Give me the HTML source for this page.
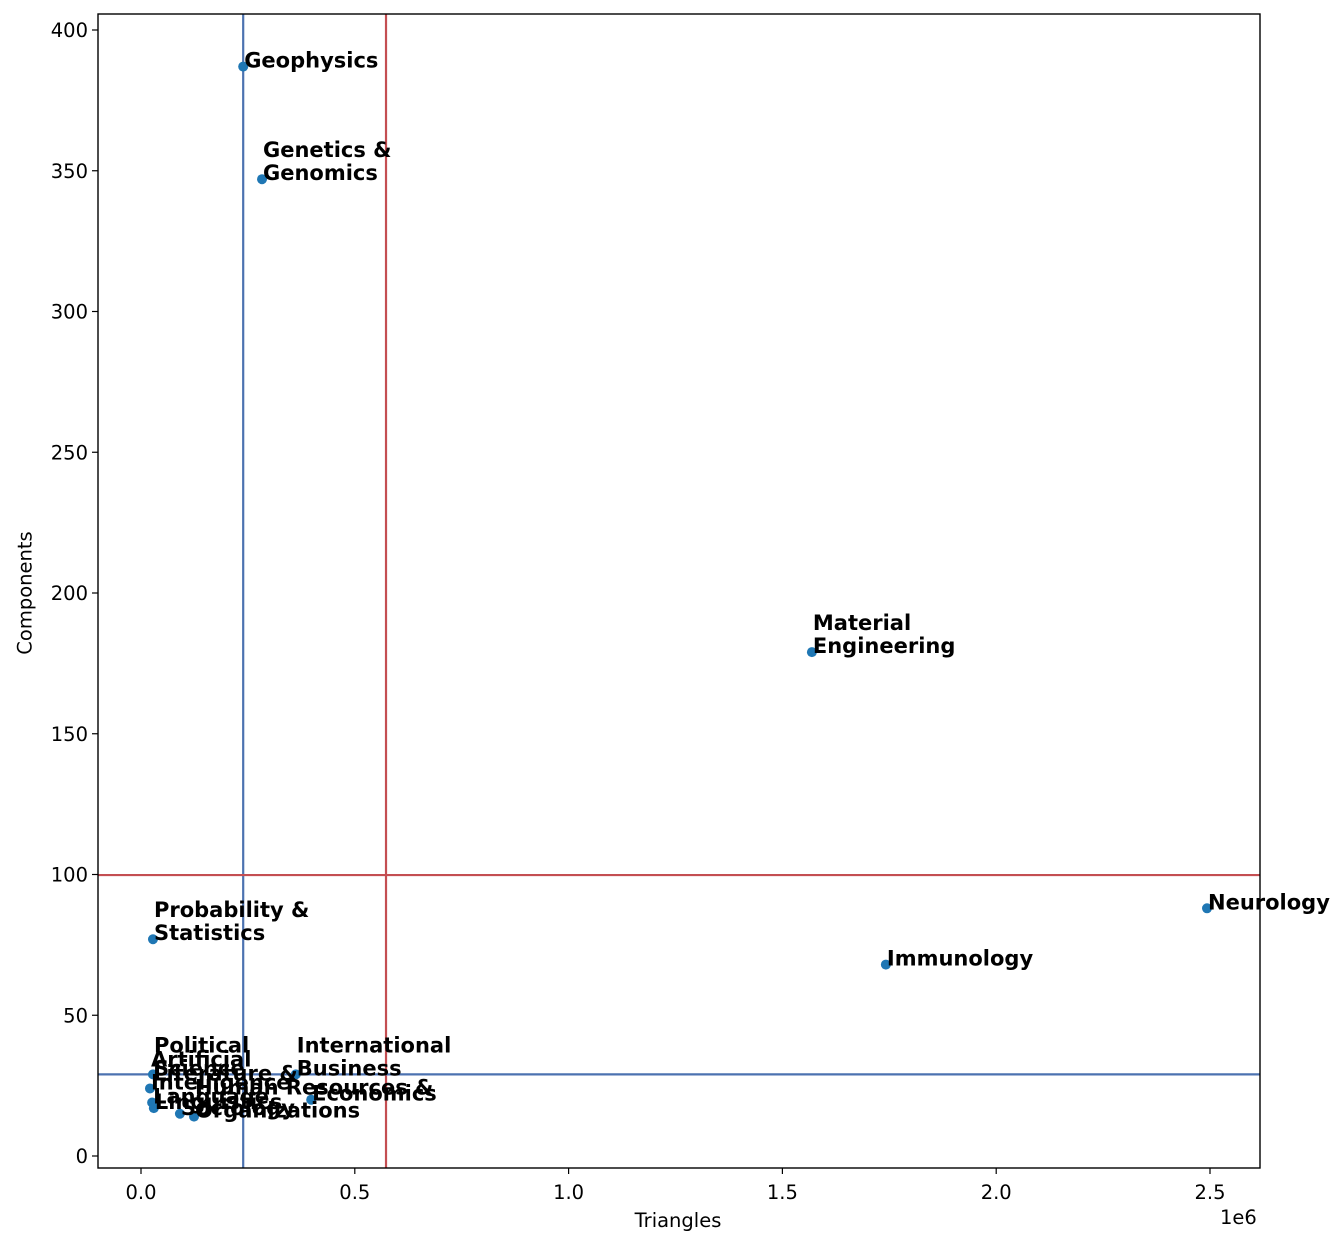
<!DOCTYPE html>
<html><head><meta charset="utf-8"><style>
body{margin:0;background:#fff}
svg{display:block;font-family:"DejaVu Sans","Liberation Sans",sans-serif}
</style></head><body>
<svg id="chart" width="1343" height="1247" viewBox="0 0 1343 1247" xmlns="http://www.w3.org/2000/svg"></svg>
<script>
const names = [["Geophysics"],["Genetics &","Genomics"],["Material","Engineering"],["Neurology"],["Immunology"],["Probability &","Statistics"],["Political","Science"],["Artificial","Intelligence"],["Literature &","Language"],["Linguistics"],["Sociology"],["Human Resources &","Organizations"],["International","Business"],["Economics"]];
const triangles = [0.239e6,0.283e6,1.569e6,2.493e6,1.742e6,0.028e6,0.028e6,0.021e6,0.026e6,0.030e6,0.091e6,0.124e6,0.362e6,0.398e6];
const components = [387,347,179,88,68,77,29,24,19,17,15,14,29,20];
const xTicks = [0,0.5e6,1e6,1.5e6,2e6,2.5e6];
const xTickLabels = ["0.0","0.5","1.0","1.5","2.0","2.5"];
const yTicks = [0,50,100,150,200,250,300,350,400];
const refX = [0.239e6,0.573e6];
const refY = [29,99.8];
const refColors = ["#4c72b0","#c44e52"];

const L=98,R=1260,T=14,B=1168;
const xs=v=>141+v*427.6/1e6;
const ys=v=>1156-v*2.815;
const svg=document.getElementById('chart');
const NS="http://www.w3.org/2000/svg";
function mk(tag,attrs,parent){const e=document.createElementNS(NS,tag);for(const k in attrs)e.setAttribute(k,attrs[k]);(parent||svg).appendChild(e);return e;}

yTicks.forEach(v=>{
  const t=mk('line',{x1:L-6,x2:L,y1:ys(v),y2:ys(v),stroke:'#000','stroke-width':1.2});
  
  
  const l=mk('text',{x:L-10,y:ys(v)+7,'text-anchor':'end','font-size':19.5});
  l.textContent=v;
  
  
});
xTicks.forEach((v,i)=>{
  const t=mk('line',{x1:xs(v),x2:xs(v),y1:B,y2:B+6,stroke:'#000','stroke-width':1.2});
  
  
  const l=mk('text',{x:xs(v),y:B+31,'text-anchor':'middle','font-size':19.5});
  l.textContent=xTickLabels[i];
  
  
});
const cp=mk('clipPath',{id:'clip'});mk('rect',{x:L,y:T,width:R-L,height:B-T},cp);
const g=mk('g',{'clip-path':'url(#clip)'});
refX.forEach((v,i)=>{
  const l=mk('line',{x1:xs(v),x2:xs(v),y1:T,y2:B,stroke:refColors[i],'stroke-width':2.2},g);
  
  
});
refY.forEach((v,i)=>{
  const l=mk('line',{x1:L,x2:R,y1:ys(v),y2:ys(v),stroke:refColors[i],'stroke-width':2.2},g);
  
  
});
triangles.forEach((v,i)=>{
  const c=mk('circle',{cx:xs(v),cy:ys(components[i]),r:5,fill:'#1f77b4'});
  
  
});
triangles.forEach((v,i)=>{
  const lines=names[i];
  const t=mk('text',{x:xs(v)+1,y:ys(components[i]),'font-size':21,'font-weight':'bold'});
  
  
  lines.forEach((s,j)=>{
    const sp=mk('tspan',{x:xs(v)+1,y:ys(components[i])+1-(lines.length-1-j)*23},t);
    sp.textContent=s;
  });
});
const fr=mk('rect',{x:L,y:T,width:R-L,height:B-T,fill:'none',stroke:'#000','stroke-width':1.4});


</script>
<div style="position:absolute;left:0;top:0;width:1343px;height:1247px;pointer-events:none">
<div style="position:absolute;left:678px;top:1209px;transform:translateX(-50%);font:19.5px 'DejaVu Sans',sans-serif">Triangles</div>
<div style="position:absolute;left:1220px;top:1206px;font:19.5px 'DejaVu Sans',sans-serif">1e6</div>
<div style="position:absolute;left:25px;top:593px;transform:translate(-50%,-50%) rotate(-90deg);font:19.5px 'DejaVu Sans',sans-serif;white-space:nowrap">Components</div>
</div>
</body></html>
